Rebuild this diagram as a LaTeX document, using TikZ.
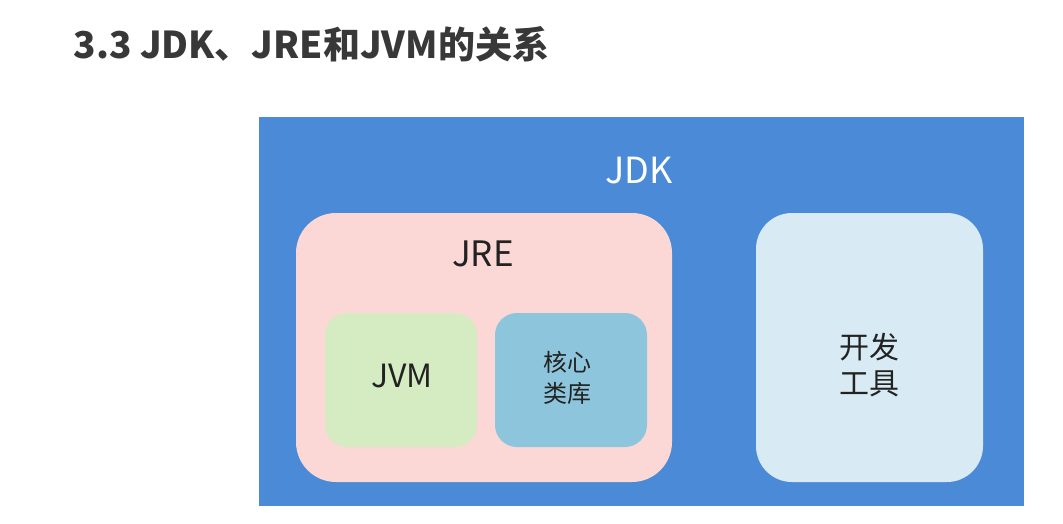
\documentclass[tikz,border=0pt]{standalone}
\usepackage{fontspec}
\setmainfont{Noto Sans CJK SC}
\definecolor{jdkblue}{HTML}{4A8AD6}
\definecolor{jrepink}{HTML}{FBD7D5}
\definecolor{jvmgreen}{HTML}{D5ECC3}
\definecolor{libblue}{HTML}{8DC6DC}
\definecolor{toolblue}{HTML}{D8EBF4}
\definecolor{textdark}{HTML}{222222}
\begin{document}
\begin{tikzpicture}[
    x=1pt, y=-1pt,
    mybox/.style={rectangle, inner sep=0pt, draw=none},
    mylabel/.style={text=textdark, align=center}
]
    \useasboundingbox[fill=white] (0,0) rectangle (1063,523);

    % Title
    \node[anchor=west, text=textdark!90, font=\bfseries\fontsize{37}{40}\selectfont] (title) at (70,44) {3.3 JDK、JRE和JVM的关系};

    % JDK
    \node[mybox, fill=jdkblue, minimum width=765pt, minimum height=389pt] (jdk) at (641.5,311.5) {};
    \node[white, font=\fontsize{36}{40}\selectfont] (jdktext) at (639,171) {JDK};

    % JRE
    \node[mybox, fill=jrepink, rounded corners=40pt, minimum width=376pt, minimum height=269pt] (jre) at (484,347.5) {};
    \node[mylabel, font=\fontsize{35}{40}\selectfont] (jretext) at (483,254) {JRE};

    % JVM and core libraries
    \node[mybox, fill=jvmgreen, rounded corners=22pt, minimum width=152pt, minimum height=134pt] (jvm) at (401,380) {};
    \node[mylabel, font=\fontsize{32}{34}\selectfont] (jvmtext) at (402,376) {JVM};
    \node[mybox, fill=libblue, rounded corners=22pt, minimum width=152pt, minimum height=134pt] (lib) at (571,380) {};
    \node[mylabel, font=\fontsize{24}{31}\selectfont] (libtext) at (567,378) {核心\\类库};

    % Tools
    \node[mybox, fill=toolblue, rounded corners=36pt, minimum width=227pt, minimum height=269pt] (tools) at (869.5,347.5) {};
    \node[mylabel, font=\fontsize{30}{36}\selectfont] (toolstext) at (869,365) {开发\\工具};
\end{tikzpicture}
\end{document}
